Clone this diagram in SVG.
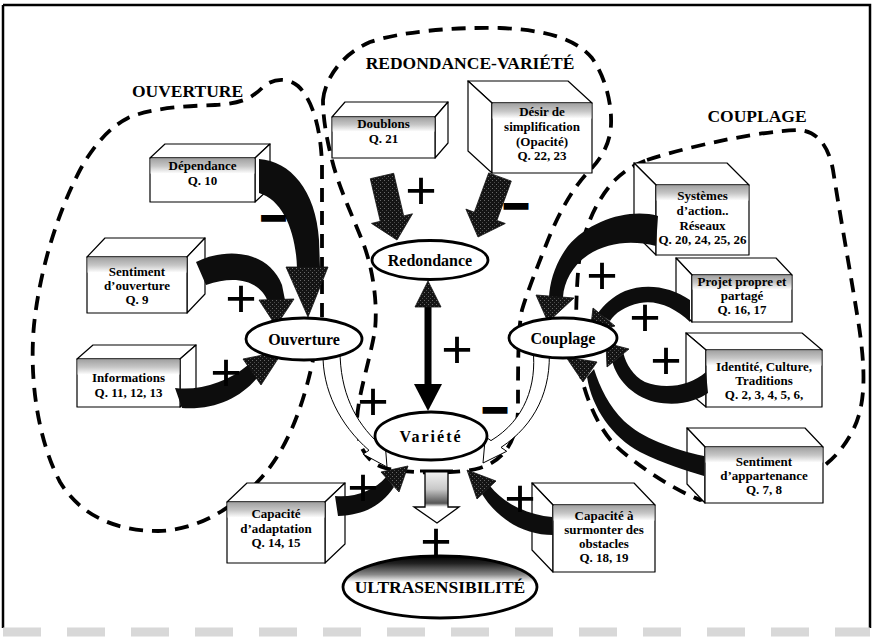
<svg xmlns="http://www.w3.org/2000/svg" width="874" height="637" viewBox="0 0 874 637">
<defs>
<style>
.dash{fill:none;stroke:#000;stroke-width:3.8;stroke-dasharray:14 9}
.face{fill:#fff;stroke:#000;stroke-width:1.2;stroke-linejoin:round}
.band{fill:url(#bandG)}
.bt{font-family:"Liberation Serif","Times New Roman",serif;font-size:13px;font-weight:bold;text-anchor:middle;fill:#000}
.et{font-family:"Liberation Serif","Times New Roman",serif;font-size:16px;font-weight:bold;text-anchor:middle;fill:#000}
.ell{fill:#fff;stroke:#000;stroke-width:2.8}
.title{font-family:"Liberation Serif","Times New Roman",serif;font-size:17.5px;font-weight:bold;text-anchor:middle;fill:#000}
.blk{fill:#0d0d0d}
.hd{fill:url(#stip);stroke:#111;stroke-width:0.8}
.wh{fill:#fff;stroke:#000;stroke-width:1}
.pl{font-family:"Liberation Sans",Arial,sans-serif;font-size:54px;text-anchor:middle;fill:#000}
.mi{font-family:"Liberation Sans",Arial,sans-serif;font-size:44px;text-anchor:middle;fill:#000;stroke:#000;stroke-width:3.5}
</style>
<linearGradient id="bandG" x1="0" y1="0" x2="0" y2="1"><stop offset="0" stop-color="#a2a2a2"/><stop offset="0.5" stop-color="#c6c6c6"/><stop offset="1" stop-color="#fff"/></linearGradient>
<linearGradient id="ultraG" x1="0" y1="0" x2="0" y2="1"><stop offset="0" stop-color="#000"/><stop offset="0.12" stop-color="#222"/><stop offset="0.3" stop-color="#8a8a8a"/><stop offset="0.42" stop-color="#fff"/></linearGradient>
<linearGradient id="hollowG" x1="0" y1="0" x2="0" y2="1"><stop offset="0" stop-color="#f4f4f4"/><stop offset="0.35" stop-color="#c8c8c8"/><stop offset="0.62" stop-color="#555"/><stop offset="0.69" stop-color="#fff"/><stop offset="1" stop-color="#fff"/></linearGradient>
<pattern id="stip" width="4" height="4" patternUnits="userSpaceOnUse"><rect width="4" height="4" fill="#141414"/><rect width="1" height="1" fill="#6a6a6a"/><rect x="2" y="2" width="1" height="1" fill="#4a4a4a"/></pattern>
</defs>

<rect width="874" height="637" fill="#fff"/>
<g id="frame">
<path d="M3,5 H870 V628 M3,5 V628" fill="none" stroke="#000" stroke-width="2.5"/>
<line x1="3" y1="632" x2="870" y2="632" stroke="#d8d8d8" stroke-width="9" stroke-dasharray="38 26"/>
</g>

<g id="regions">
<path class="dash" d="M322,317 L322,165 C321,130 313,100 298,86 C288,77 272,78 262,88 C252,98 240,104 215,105 C185,106 150,108 128,118 C108,128 92,148 80,170 C58,212 40,268 34,325 C29,380 38,440 60,482 C80,515 115,531 158,531 C200,530 236,506 262,477 C285,451 302,412 313,360 L322,317"/>
<path class="dash" d="M323,100 C325,80 340,55 370,42 C400,32 450,27 500,28 C545,30 575,38 592,58 C606,78 612,105 611,125 C610,145 600,160 590,170 C575,185 560,210 548,240 C538,265 528,290 522,310 C518,330 518,360 518,410 C517,440 505,460 480,468 C460,474 410,474 385,468 C365,462 357,445 357,420 C358,395 370,360 375,330 C378,300 372,265 362,240 C352,215 338,185 332,160 C327,140 323,120 323,100 Z"/>
<path class="dash" d="M647,160 C700,143 765,131 797,130 C815,130 828,143 833,170 C840,215 850,270 858,320 C866,370 866,405 853,430 C845,446 835,457 825,465 L700,500 C670,488 632,462 613,443 C596,424 583,392 578,360 C575,330 576,290 579,262 C583,230 596,200 615,180 C625,170 636,164 647,160 Z"/>
</g>

<g id="titles">
<text class="title" x="187.5" y="97">OUVERTURE</text>
<text class="title" x="470" y="69">REDONDANCE-VARIÉTÉ</text>
<text class="title" x="757" y="122">COUPLAGE</text>
</g>

<g id="box-dependance">
<polygon class="face" points="150,158 165,144 270,144 255,158"/>
<polygon class="face" points="255,158 270,144 270,188 255,202"/>
<rect class="face" x="150" y="158" width="105" height="44"/>
<rect class="band" x="150.6" y="158.6" width="103.8" height="15"/>
<text class="bt" x="202.5" y="170">Dépendance</text>
<text class="bt" x="202.5" y="185">Q. 10</text>
</g>

<g id="box-sentiment-ouverture">
<polygon class="face" points="87,257 105,238 205,238 187,257"/>
<polygon class="face" points="187,257 205,238 205,294 187,313"/>
<rect class="face" x="87" y="257" width="100" height="56"/>
<rect class="band" x="87.6" y="257.6" width="98.8" height="15"/>
<text class="bt" x="137" y="276">Sentiment</text>
<text class="bt" x="137" y="290">d’ouverture</text>
<text class="bt" x="137" y="304">Q. 9</text>
</g>

<g id="box-informations">
<polygon class="face" points="77,359 93,345 196,345 180,359"/>
<polygon class="face" points="180,359 196,345 196,393 180,407"/>
<rect class="face" x="77" y="359" width="103" height="48"/>
<rect class="band" x="77.6" y="359.6" width="101.8" height="15"/>
<text class="bt" x="128.5" y="382">Informations</text>
<text class="bt" x="128.5" y="397">Q. 11, 12, 13</text>
</g>

<g id="box-doublons">
<polygon class="face" points="332,117 345,102 448,102 435,117"/>
<polygon class="face" points="435,117 448,102 448,143 435,158"/>
<rect class="face" x="332" y="117" width="103" height="41"/>
<rect class="band" x="332.6" y="117.6" width="101.8" height="14"/>
<text class="bt" x="383.5" y="128">Doublons</text>
<text class="bt" x="383.5" y="143">Q. 21</text>
</g>

<g id="box-desir">
<polygon class="face" points="492,103 468,81 568,81 592,103"/>
<polygon class="face" points="492,103 468,81 468,151 492,173"/>
<rect class="face" x="492" y="103" width="100" height="70"/>
<rect class="band" x="492.6" y="103.6" width="98.8" height="15"/>
<text class="bt" x="542" y="116">Désir de</text>
<text class="bt" x="542" y="131">simplification</text>
<text class="bt" x="542" y="146">(Opacité)</text>
<text class="bt" x="542" y="160">Q. 22, 23</text>
</g>

<g id="box-systemes">
<polygon class="face" points="656,185 634,163 727,163 749,185"/>
<polygon class="face" points="656,185 634,163 634,233 656,255"/>
<rect class="face" x="656" y="185" width="93" height="70"/>
<rect class="band" x="656.6" y="185.6" width="91.8" height="15"/>
<text class="bt" x="702.5" y="200">Systèmes</text>
<text class="bt" x="702.5" y="215">d’action..</text>
<text class="bt" x="702.5" y="230">Réseaux</text>
<text class="bt" x="702.5" y="244">Q. 20, 24, 25, 26</text>
</g>

<g id="box-projet">
<polygon class="face" points="692,275 676,258 776,258 792,275"/>
<polygon class="face" points="692,275 676,258 676,305 692,322"/>
<rect class="face" x="692" y="275" width="100" height="47"/>
<rect class="band" x="692.6" y="275.6" width="98.8" height="14"/>
<text class="bt" x="742" y="286">Projet propre et</text>
<text class="bt" x="742" y="300">partagé</text>
<text class="bt" x="742" y="314">Q. 16, 17</text>
</g>

<g id="box-identite">
<polygon class="face" points="706,350 686,333 802,333 822,350"/>
<polygon class="face" points="706,350 686,333 686,390 706,407"/>
<rect class="face" x="706" y="350" width="116" height="57"/>
<rect class="band" x="706.6" y="350.6" width="114.8" height="15"/>
<text class="bt" x="764" y="371">Identité, Culture,</text>
<text class="bt" x="764" y="385">Traditions</text>
<text class="bt" x="764" y="399">Q. 2, 3, 4, 5, 6,</text>
</g>

<g id="box-appartenance">
<polygon class="face" points="705,447 687,428 805,428 823,447"/>
<polygon class="face" points="705,447 687,428 687,484 705,503"/>
<rect class="face" x="705" y="447" width="118" height="56"/>
<rect class="band" x="705.6" y="447.6" width="116.8" height="15"/>
<text class="bt" x="764" y="466">Sentiment</text>
<text class="bt" x="764" y="480">d’appartenance</text>
<text class="bt" x="764" y="494">Q. 7, 8</text>
</g>

<g id="box-adaptation">
<polygon class="face" points="227,502 247,483 345,483 325,502"/>
<polygon class="face" points="325,502 345,483 345,544 325,563"/>
<rect class="face" x="227" y="502" width="98" height="61"/>
<rect class="band" x="227.6" y="502.6" width="96.8" height="15"/>
<text class="bt" x="276" y="518">Capacité</text>
<text class="bt" x="276" y="533">d’adaptation</text>
<text class="bt" x="276" y="547">Q. 14, 15</text>
</g>

<g id="box-obstacles">
<polygon class="face" points="553,505 532,483 634,483 655,505"/>
<polygon class="face" points="553,505 532,483 532,550 553,572"/>
<rect class="face" x="553" y="505" width="102" height="67"/>
<rect class="band" x="553.6" y="505.6" width="100.8" height="15"/>
<text class="bt" x="604" y="520">Capacité à</text>
<text class="bt" x="604" y="534">surmonter des</text>
<text class="bt" x="604" y="548">obstacles</text>
<text class="bt" x="604" y="562">Q. 18, 19</text>
</g>

<g id="connectors">
<path class="blk" d="M259,159 C290,161 316,190 319,240 L320,268 L297,268 C296,232 283,200 259,193 Z"/>
<polygon class="hd" points="286,267 328,267 308,317"/>
<path class="blk" d="M196,262 C226,247 268,250 282,285 L285,300 L268,302 C262,284 240,273 206,285 Z"/>
<polygon class="hd" points="259,300 294,299 276,326"/>
<path class="blk" d="M175,388 C200,391 228,382 248,365 L257,378 C240,398 215,410 182,408 Z"/>
<polygon class="hd" points="243,359 283,351 261,385"/>
<polygon class="hd" points="393.7,173.3 403.7,215.9 412.5,213.8 397,240 371.5,223.4 380.3,221.3 370.3,178.7"/>
<polygon class="hd" points="511.3,181.1 496.9,220.4 505.3,223.5 478,237 465.9,209.1 474.3,212.2 488.7,172.9"/>
<rect x="424.5" y="300" width="7" height="88" fill="#000"/>
<polygon class="hd" points="428,281 415,307 441,307"/>
<polygon points="428,411 414,384 442,384" fill="#000"/>
<path class="wh" d="M323,352 C322,390 340,425 369,450.3 L363.1,454.1 L387,467 L384.9,439.9 L379,443.7 C355,422 340,392 340,350 Z"/>
<path class="wh" d="M533,349 C537,385 525,420 491,440.6 L485.3,436.7 L483,463 L506.7,451.3 L501,447.4 C535,425 552,390 549,347 Z"/>
<polygon points="425,471 448,471 448,507 459,507 437,523 414,507 425,507" fill="url(#hollowG)" stroke="#000" stroke-width="1.3"/>
<line x1="420" y1="471" x2="453" y2="471" stroke="#000" stroke-width="3"/>
<path class="blk" d="M335,496 C355,498 375,490 386,477 L394,487 C382,505 365,515 338,516 Z"/>
<polygon class="hd" points="381,472 408,466 399,492"/>
<path class="blk" d="M552,517 C530,515 505,505 490,486 L482,494 C498,520 525,535 553,535 Z"/>
<polygon class="hd" points="496,481 467,470 477,499"/>
<path class="blk" d="M658,216 C630,208 590,220 568,246 C556,262 550,280 549,297 L563,297 C564,282 572,266 588,255 C608,242 632,240 656,246 Z"/>
<polygon class="hd" points="536,295 574,298 548,322"/>
<path class="blk" d="M690,300 C670,286 645,283 625,291 C612,297 604,305 598,313 L610,321 C615,313 625,306 640,303 C658,300 675,308 690,322 Z"/>
<polygon class="hd" points="593,308 615,326 590,333"/>
<path class="blk" d="M706,372 C690,386 665,390 645,382 C633,376 626,364 623.5,353.6 L612.5,362.4 C617,378 630,395 655,402 C680,407 698,400 708,393 Z"/>
<polygon class="hd" points="629,349 606,343 607,367"/>
<path class="blk" d="M704,456 C672,449 642,438 624,421 C609,406 600,388 594,369 L587,377 C592,408 612,437 640,452 C664,464 685,470 704,476 Z"/>
<polygon class="hd" points="597,362 566,357 583,382"/>
<text class="mi" x="273.5" y="233">−</text>
<text class="pl" x="241" y="317">+</text>
<text class="pl" x="226" y="391">+</text>
<text class="pl" x="421" y="209">+</text>
<text class="mi" x="516" y="221">−</text>
<text class="pl" x="457" y="368">+</text>
<text class="pl" x="373" y="420">+</text>
<text class="mi" x="495" y="425">−</text>
<text class="pl" x="363" y="506">+</text>
<text class="pl" x="436" y="560">+</text>
<text class="pl" x="520" y="517">+</text>
<text class="pl" x="602" y="294">+</text>
<text class="pl" x="645" y="336">+</text>
<text class="pl" x="666" y="379">+</text>
</g>

<g id="node-redondance"><ellipse class="ell" cx="430" cy="260" rx="58" ry="19.5"/><text class="et" x="430" y="265.5">Redondance</text></g>
<g id="node-ouverture"><ellipse class="ell" cx="304" cy="339" rx="58" ry="21"/><text class="et" x="304" y="344.5">Ouverture</text></g>
<g id="node-couplage"><ellipse class="ell" cx="563" cy="338" rx="54" ry="20"/><text class="et" x="563" y="343.5">Couplage</text></g>
<g id="node-variete"><ellipse class="ell" cx="431" cy="436" rx="56" ry="24"/><text class="et" x="431" y="441.5" letter-spacing="2">Variété</text></g>
<g id="node-ultrasensibilite"><ellipse cx="440" cy="587" rx="97" ry="31" fill="url(#ultraG)" stroke="#000" stroke-width="2.8"/><text class="title" x="440" y="593">ULTRASENSIBILITÉ</text></g>
</svg>
